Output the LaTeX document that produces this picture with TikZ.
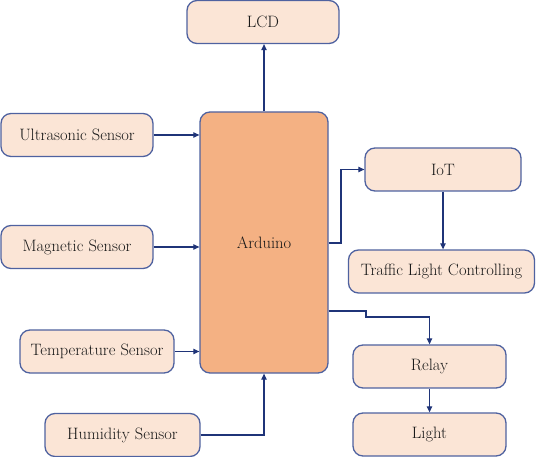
\documentclass[tikz,border=0pt]{standalone}
\usetikzlibrary{arrows.meta}
\definecolor{boxfill}{HTML}{FBE5D6}
\definecolor{ardfill}{HTML}{F4B183}
\definecolor{boxline}{HTML}{4F62A0}
\definecolor{arrowc}{HTML}{1F3478}
\begin{document}
\begin{tikzpicture}[x=1pt,y=-1pt,
  blk/.style={draw=boxline, line width=1.3pt, fill=boxfill, rounded corners=10pt,
    minimum width=#1, minimum height=43pt, inner sep=0pt,
    font=\fontsize{16.5}{18}\selectfont, text=black!90},
  blk/.default=152pt,
  ardbox/.style={draw=boxline, line width=1.3pt, fill=ardfill, rounded corners=10pt,
    minimum width=128pt, minimum height=261pt, inner sep=0pt,
    font=\fontsize{16.5}{18}\selectfont, text=black!90},
  conn/.style={draw=arrowc, line width=1.2pt, -{Triangle[length=6pt,width=5.5pt]}}]
\useasboundingbox (0,0) rectangle (536,457);
\node[blk=152pt] (lcd) at (263,22) {LCD};
\node[ardbox] (ard) at (264,242.5) {Arduino};
\node[blk=152pt] (ult) at (77,135) {Ultrasonic Sensor};
\node[blk=152pt] (mag) at (77,247) {Magnetic Sensor};
\node[blk=154pt] (tmp) at (97,351.5) {Temperature Sensor};
\node[blk=155pt] (hum) at (122.5,435) {Humidity Sensor};
\node[blk=156pt] (iot) at (443,169.5) {IoT};
\node[blk=186pt] (tlc) at (441.5,271.5) {Traffic Light Controlling};
\node[blk=153pt] (rel) at (429.5,366.5) {Relay};
\node[blk=153pt] (lig) at (429.5,434.5) {Light};
\coordinate (iotout) at (ard.east |- 0,243);
\coordinate (iotbend) at (341,243);
\coordinate (relout) at (ard.east |- 0,311);
\coordinate (relb1) at (366,311);
\coordinate (relb2) at (366,317);
\draw[conn] (ult.east) -- (ult.east -| ard.west);
\draw[conn] (mag.east) -- (mag.east -| ard.west);
\draw[conn] (tmp.east) -- (tmp.east -| ard.west);
\draw[conn] (hum.east) -| (ard.south);
\draw[conn] (ard.north) -- (ard.north |- lcd.south);
\draw[conn] (iotout) -- (iotbend) |- (iot.west);
\draw[conn] (iot.south) -- (iot.south |- tlc.north);
\draw[conn] (relout) -- (relb1) -- (relb2) -| (rel.north);
\draw[conn] (rel.south) -- (lig.north);
\end{tikzpicture}
\end{document}
